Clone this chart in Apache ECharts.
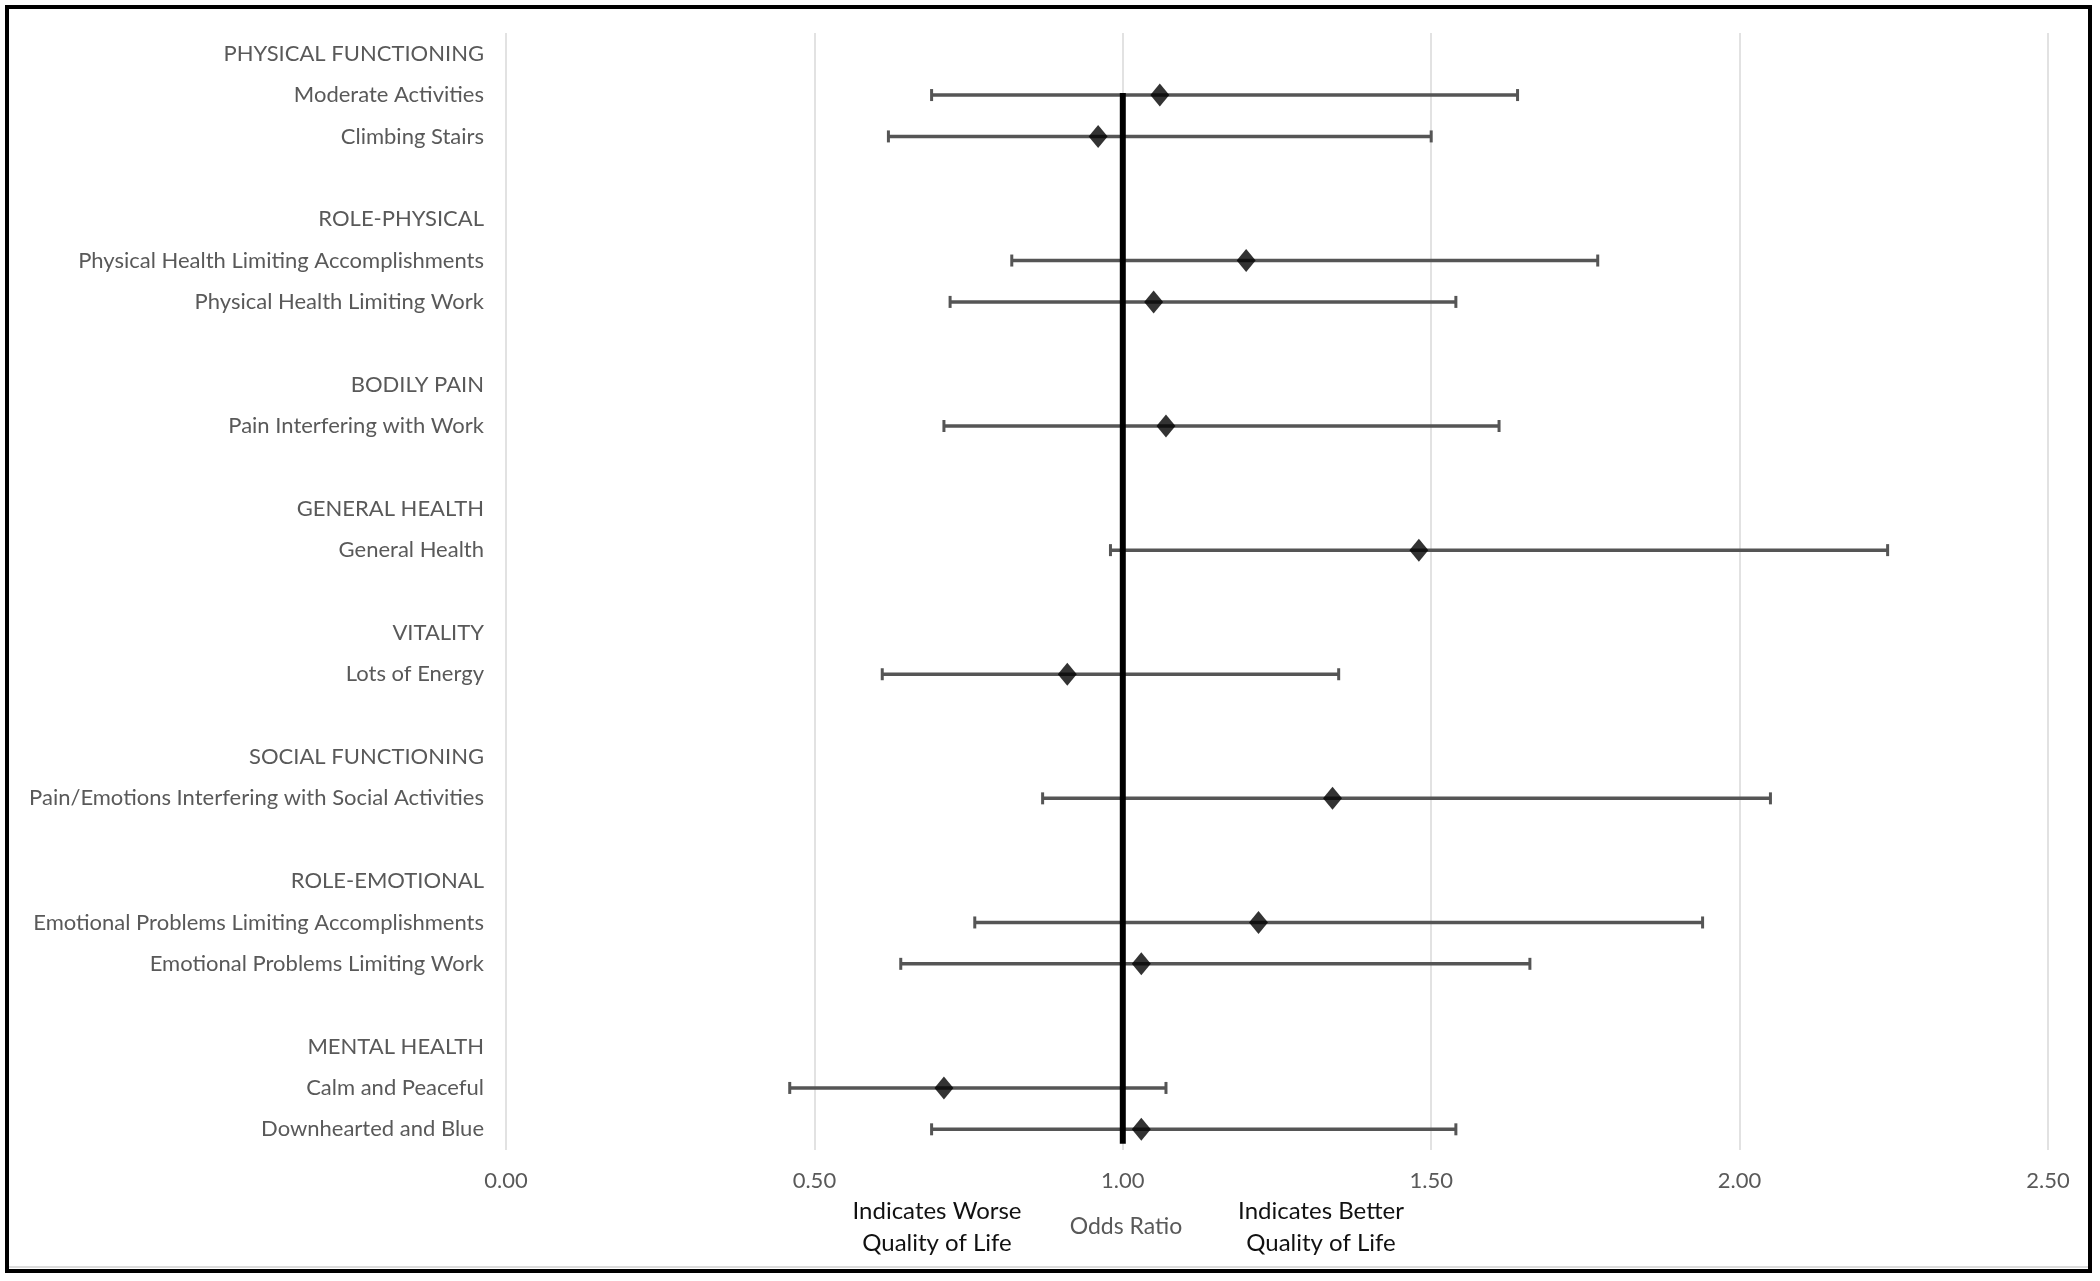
<!DOCTYPE html>
<html><head><meta charset="utf-8">
<script src="https://cdn.jsdelivr.net/npm/echarts@6/dist/echarts.min.js"></script>
<style>html,body{margin:0;padding:0;background:#fff}#c{width:2100px;height:1281px}</style>
</head><body><div id="c"></div>
<script>
// Row labels (top to bottom), blank rows separate the domains
const rowLabels = [
  'PHYSICAL FUNCTIONING', 'Moderate Activities', 'Climbing Stairs', '',
  'ROLE-PHYSICAL', 'Physical Health Limiting Accomplishments', 'Physical Health Limiting Work', '',
  'BODILY PAIN', 'Pain Interfering with Work', '',
  'GENERAL HEALTH', 'General Health', '',
  'VITALITY', 'Lots of Energy', '',
  'SOCIAL FUNCTIONING', 'Pain/Emotions Interfering with Social Activities', '',
  'ROLE-EMOTIONAL', 'Emotional Problems Limiting Accomplishments', 'Emotional Problems Limiting Work', '',
  'MENTAL HEALTH', 'Calm and Peaceful', 'Downhearted and Blue'
];
const itemNames = [
  'Moderate Activities', 'Climbing Stairs',
  'Physical Health Limiting Accomplishments', 'Physical Health Limiting Work',
  'Pain Interfering with Work', 'General Health', 'Lots of Energy',
  'Pain/Emotions Interfering with Social Activities',
  'Emotional Problems Limiting Accomplishments', 'Emotional Problems Limiting Work',
  'Calm and Peaceful', 'Downhearted and Blue'
];
const oddsRatio = [1.06, 0.96, 1.20, 1.05, 1.07, 1.48, 0.91, 1.34, 1.22, 1.03, 0.71, 1.03];
const ciLower   = [0.69, 0.62, 0.82, 0.72, 0.71, 0.98, 0.61, 0.87, 0.76, 0.64, 0.46, 0.69];
const ciUpper   = [1.64, 1.50, 1.77, 1.54, 1.61, 2.24, 1.35, 2.05, 1.94, 1.66, 1.07, 1.54];
const xMin = 0, xMax = 2.5, xStep = 0.5;
const refValue = 1.0;

const FONT = 'Lato';
const chart = echarts.init(document.getElementById('c'));

const ciData = itemNames.map((n, i) => [ciLower[i], ciUpper[i], n]);
const pointData = itemNames.map((n, i) => [oddsRatio[i], n]);

chart.setOption({
  backgroundColor: '#fff',
  animation: false,
  grid: { left: 506, right: 52, top: 33, bottom: 131, containLabel: false },
  xAxis: {
    type: 'value', min: xMin, max: xMax, interval: xStep,
    axisLine: { show: false }, axisTick: { show: false },
    splitLine: { show: true, lineStyle: { color: '#d9d9d9', width: 1.5 } },
    axisLabel: { formatter: v => v.toFixed(2), color: '#595959', fontSize: 22, margin: 20, fontFamily: FONT }
  },
  yAxis: {
    type: 'category', data: rowLabels, inverse: true,
    axisLine: { show: false }, axisTick: { show: false }, splitLine: { show: false },
    axisLabel: { color: '#595959', fontSize: 22, margin: 22, fontFamily: FONT, interval: 0 }
  },
  series: [
    {
      type: 'custom', name: 'CI', z: 2,
      encode: { x: [0, 1], y: 2 },
      data: ciData,
      renderItem: function (params, api) {
        const c = api.value(2);
        const p0 = api.coord([api.value(0), c]);
        const p1 = api.coord([api.value(1), c]);
        const h = 6;
        const st = { stroke: '#555555', lineWidth: 3.5 };
        return {
          type: 'group', children: [
            { type: 'line', shape: { x1: p0[0], y1: p0[1], x2: p1[0], y2: p1[1] }, style: st },
            { type: 'line', shape: { x1: p0[0], y1: p0[1] - h, x2: p0[0], y2: p0[1] + h }, style: { stroke: '#555555', lineWidth: 3 } },
            { type: 'line', shape: { x1: p1[0], y1: p1[1] - h, x2: p1[0], y2: p1[1] + h }, style: { stroke: '#555555', lineWidth: 3 } }
          ]
        };
      }
    },
    {
      type: 'custom', name: 'Reference', z: 3,
      encode: { x: 0, y: [1, 2] },
      data: [[refValue, itemNames[0], itemNames[itemNames.length - 1]]],
      renderItem: function (params, api) {
        const a = api.coord([api.value(0), api.value(1)]);
        const b = api.coord([api.value(0), api.value(2)]);
        const band = api.size([0, 1])[1];
        return { type: 'line', shape: { x1: a[0], y1: a[1] - 2, x2: b[0], y2: b[1] + band * 0.35 },
                 style: { stroke: '#000', lineWidth: 6 } };
      }
    },
    {
      type: 'scatter', name: 'Odds Ratio', z: 4,
      data: pointData,
      symbol: 'diamond', symbolSize: [19, 23],
      itemStyle: { color: '#000' }
    }
  ],
  graphic: [
    { type: 'rect', shape: { x: 7, y: 7, width: 2083, height: 1264 },
      style: { fill: 'none', stroke: '#000', lineWidth: 4 }, z: 10 },
    { type: 'line', shape: { x1: 9, y1: 1267, x2: 2088, y2: 1267 }, style: { stroke: '#d0d0d0', lineWidth: 1.5 }, z: 9 },
    { type: 'text', x: 937, y: 1227, style: { text: 'Indicates Worse\nQuality of Life', fill: '#111', font: '24px ' + FONT, textAlign: 'center', textVerticalAlign: 'middle', lineHeight: 32 } },
    { type: 'text', x: 1126, y: 1227, style: { text: 'Odds Ratio', fill: '#595959', font: '23px ' + FONT, textAlign: 'center', textVerticalAlign: 'middle' } },
    { type: 'text', x: 1321, y: 1227, style: { text: 'Indicates Better\nQuality of Life', fill: '#111', font: '24px ' + FONT, textAlign: 'center', textVerticalAlign: 'middle', lineHeight: 32 } }
  ]
});
</script>
</body></html>
